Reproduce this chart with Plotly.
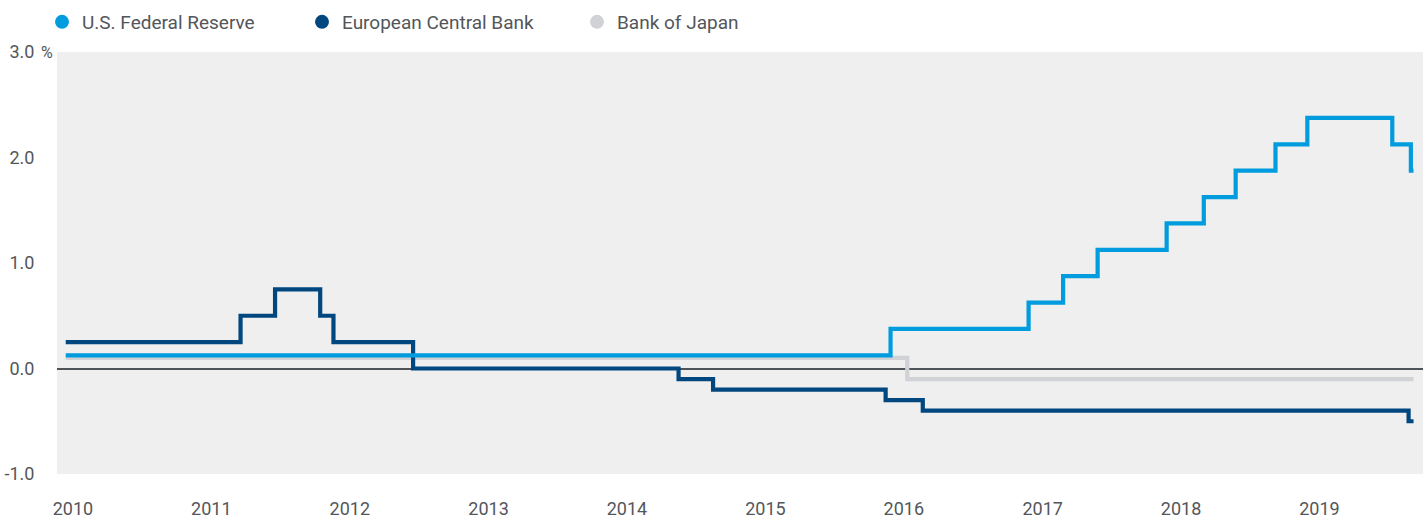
import plotly.graph_objects as go

# ---- data (policy rates, %) ----
fed_dates = ["2010-01-01", "2015-12-16", "2016-12-14", "2017-03-15", "2017-06-14",
             "2017-12-13", "2018-03-21", "2018-06-13", "2018-09-26", "2018-12-19",
             "2019-07-31", "2019-09-18", "2019-09-25"]
fed_rates = [0.125, 0.375, 0.625, 0.875, 1.125, 1.375, 1.625, 1.875, 2.125, 2.375,
             2.125, 1.875, 1.875]

ecb_dates = ["2010-01-01", "2011-04-07", "2011-07-07", "2011-11-03", "2011-12-08",
             "2012-07-05", "2014-06-05", "2014-09-04", "2015-12-03", "2016-03-10",
             "2019-09-12", "2019-09-25"]
ecb_rates = [0.25, 0.50, 0.75, 0.50, 0.25, 0.00, -0.10, -0.20, -0.30, -0.40, -0.50, -0.50]

boj_dates = ["2010-01-01", "2016-01-29", "2019-09-25"]
boj_rates = [0.10, -0.10, -0.10]

series_names = ["U.S. Federal Reserve", "European Central Bank", "Bank of Japan"]
series_colors = ["#009CDE", "#00477F", "#D0D2D5"]

year_ticks = [f"{y}-01-20" for y in range(2010, 2020)]
year_labels = [str(y) for y in range(2010, 2020)]
y_ticks = [-1, 0, 1, 2, 3]
y_labels = ["-1.0", "0.0", "1.0", "2.0", "3.0"]

FONT = "Roboto, Liberation Sans Narrow, sans-serif"
TEXT = "#53565A"

fig = go.Figure()

# lines (drawn bottom to top: BoJ, ECB, Fed)
for dates, rates, name, color in [
    (boj_dates, boj_rates, series_names[2], series_colors[2]),
    (ecb_dates, ecb_rates, series_names[1], series_colors[1]),
    (fed_dates, fed_rates, series_names[0], series_colors[0]),
]:
    fig.add_trace(go.Scatter(x=dates, y=rates, mode="lines", name=name,
                             line=dict(color=color, width=4.2, shape="hv"),
                             showlegend=False, legendgroup=name))

# legend entries with round markers
legend_widths = [215, 230, 150]
for name, color, lw in zip(series_names, series_colors, legend_widths):
    fig.add_trace(go.Scatter(x=[None], y=[None], mode="markers", name=name,
                             marker=dict(color=color, size=14, symbol="circle"),
                             legendgroup=name, legendwidth=lw))

fig.update_layout(
    width=1427, height=519,
    margin=dict(l=57, r=4, t=52, b=45, autoexpand=False),
    paper_bgcolor="white", plot_bgcolor="#EFEFEF",
    font=dict(family=FONT, size=19, color=TEXT),
    showlegend=True,
    legend=dict(orientation="h", xref="container", yref="container",
                x=42 / 1427, xanchor="left", y=1 - 3 / 519, yanchor="top",
                font=dict(family=FONT, size=19, color=TEXT),
                bgcolor="rgba(0,0,0,0)", itemclick=False),
    xaxis=dict(type="date", range=["2009-12-09", "2019-10-20"],
               tickvals=year_ticks, ticktext=year_labels,
               showgrid=False, zeroline=False, showline=False,
               ticks="outside", ticklen=18, tickcolor="rgba(0,0,0,0)",
               tickfont=dict(family=FONT, size=18, color=TEXT)),
    yaxis=dict(range=[-1, 3], tickvals=y_ticks, ticktext=y_labels,
               showgrid=False, zeroline=True, zerolinecolor="#4D5359", zerolinewidth=1.5,
               showline=False, ticks="outside", ticklen=18, tickcolor="rgba(0,0,0,0)",
               tickfont=dict(family=FONT, size=18, color=TEXT)),
)

fig.add_annotation(xref="paper", yref="y", x=0, y=3, xanchor="left", yanchor="middle",
                   xshift=-18, text="%", showarrow=False,
                   font=dict(family=FONT, size=16, color=TEXT))

fig.write_html("out.html")
